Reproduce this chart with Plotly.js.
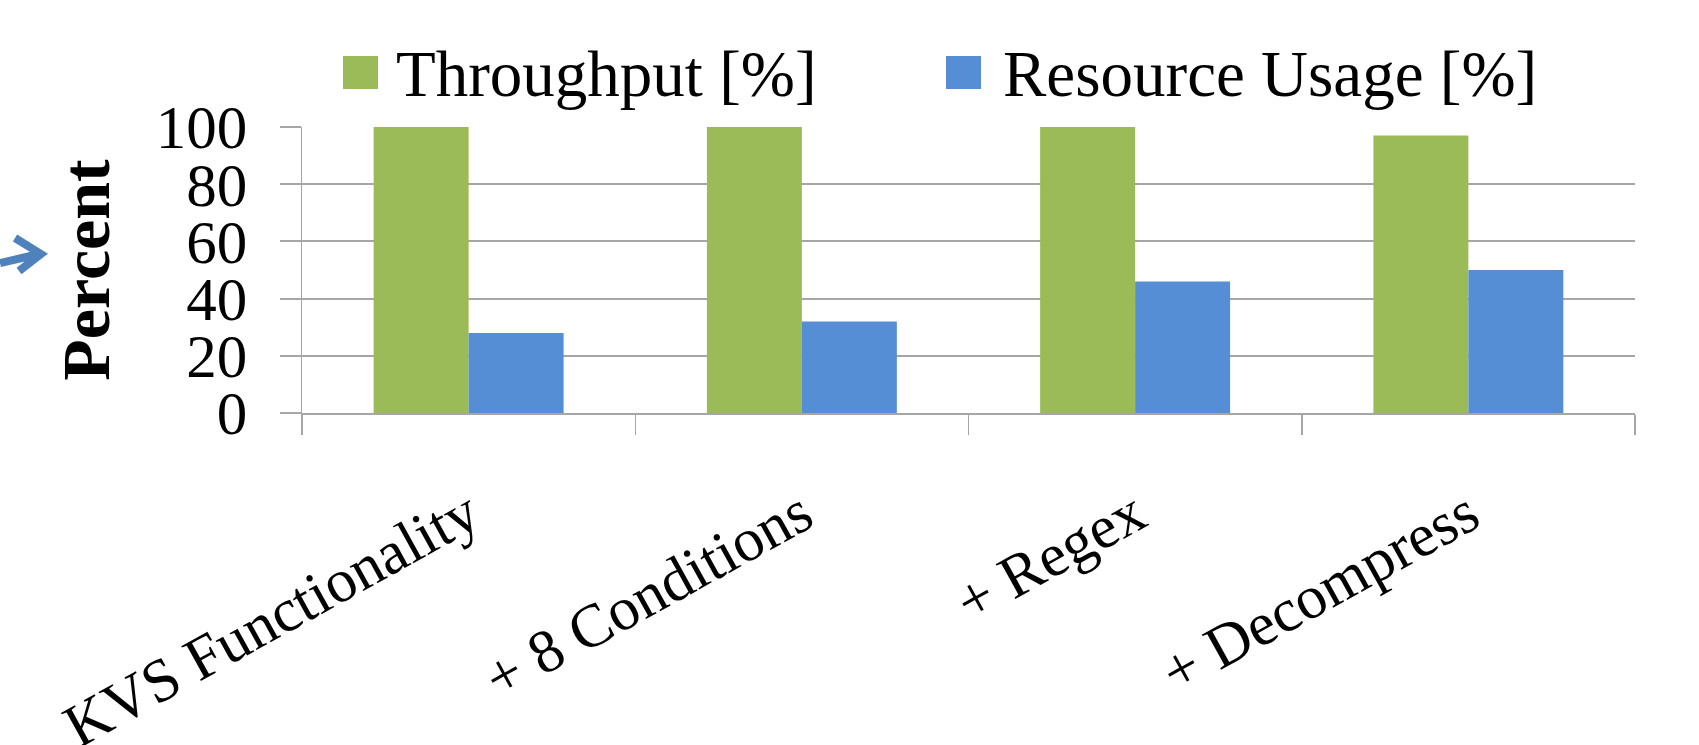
<!DOCTYPE html>
<html>
<head>
<meta charset="utf-8">
<script src="https://cdn.plot.ly/plotly-3.0.1.min.js"></script>
<style>
  html, body { margin: 0; padding: 0; background: #ffffff; }
  #chart { width: 1699px; height: 745px; }
</style>
</head>
<body>
<div id="chart"></div>
<script>
// Feature stages along the x axis
const categories = ['KVS Functionality', '+ 8 Conditions', '+ Regex', '+ Decompress'];
// Series values, in percent
const throughput = [100, 100, 100, 97];
const resourceUsage = [28, 32, 46, 50];
// Series names
const seriesNames = ['Throughput [%]', 'Resource Usage [%]'];
const seriesColors = ['#9bbb59', '#558ed5'];
// Y axis ticks
const yTicks = [0, 20, 40, 60, 80, 100];

const W = 1699, H = 745;
const M = { l: 302, r: 64, t: 127, b: 332 };
const PW = W - M.l - M.r, PH = H - M.t - M.b;
// pixel -> paper helpers for the hand-drawn legend and arrow
const px = v => (v - M.l) / PW;
const py = v => (H - M.b - v) / PH;

const serif = 'Liberation Serif, Times New Roman, serif';

const traces = [
  { type: 'bar', name: seriesNames[0], x: categories, y: throughput,
    marker: { color: seriesColors[0] }, hoverinfo: 'x+y' },
  { type: 'bar', name: seriesNames[1], x: categories, y: resourceUsage,
    marker: { color: seriesColors[1] }, hoverinfo: 'x+y' }
];

// Legend: coloured squares plus labels above the plot
const legendItems = [
  { sq: [343, 378], textX: 394 },
  { sq: [946, 981], textX: 1001 }
];
const shapes = [];
const annotations = [];
legendItems.forEach((it, i) => {
  shapes.push({
    type: 'rect', xref: 'paper', yref: 'paper',
    x0: px(it.sq[0]), x1: px(it.sq[1]), y0: py(89), y1: py(56),
    fillcolor: seriesColors[i], line: { width: 0 }
  });
  annotations.push({
    xref: 'paper', yref: 'paper', x: px(it.textX), y: py(74),
    xanchor: 'left', yanchor: 'middle', showarrow: false,
    text: seriesNames[i], font: { family: serif, size: 65, color: '#000' }
  });
});

// Small pointer arrow at the left edge
const arrowPath = 'M ' + px(0) + ',' + py(263) + ' L ' + px(39) + ',' + py(254) +
  ' M ' + px(15) + ',' + py(238) + ' L ' + px(41) + ',' + py(254) + ' L ' + px(19) + ',' + py(271);
shapes.push({
  type: 'path', xref: 'paper', yref: 'paper', path: arrowPath,
  line: { color: '#4f81bd', width: 8 }
});

const layout = {
  width: W, height: H,
  margin: M,
  paper_bgcolor: '#ffffff', plot_bgcolor: '#ffffff',
  showlegend: false,
  barmode: 'group',
  bargap: 0.43, bargroupgap: 0,
  font: { family: serif, color: '#000' },
  xaxis: {
    type: 'category',
    tickson: 'boundaries',
    ticks: 'outside', ticklen: 20, tickwidth: 1.5, tickcolor: '#a6a6a6',
    showline: true, linecolor: '#a6a6a6', linewidth: 2,
    showgrid: false,
    tickangle: -29,
    ticklabelstandoff: 40,
    tickfont: { family: serif, size: 61, color: '#000' }
  },
  yaxis: {
    range: [0, 100],
    tickvals: yTicks,
    ticks: 'outside', ticklen: 21, tickwidth: 2, tickcolor: '#a6a6a6',
    showline: true, linecolor: '#a6a6a6', linewidth: 1.5,
    showgrid: true, gridcolor: '#a6a6a6', gridwidth: 2,
    zeroline: false,
    ticklabelstandoff: 20,
    tickfont: { family: serif, size: 61, color: '#000' },
    title: { text: '<b>Percent</b>', standoff: 24,
             font: { family: serif, size: 68, color: '#000' } }
  },
  shapes: shapes,
  annotations: annotations
};

Plotly.newPlot('chart', traces, layout, { displayModeBar: false, staticPlot: true });
</script>
</body>
</html>
